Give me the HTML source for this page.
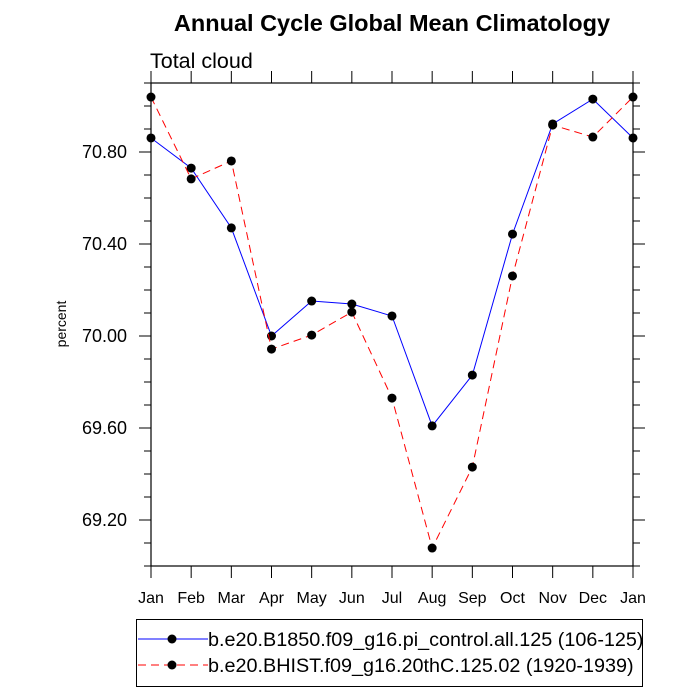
<!DOCTYPE html>
<html><head><meta charset="utf-8"><style>body{margin:0;background:#fff}svg{display:block;font-family:"Liberation Sans",Arial,sans-serif}</style></head>
<body>
<svg id="chart" width="700" height="700" viewBox="0 0 700 700" xmlns="http://www.w3.org/2000/svg">
<text x="392" y="31" text-anchor="middle" font-size="23.5" font-weight="bold">Annual Cycle Global Mean Climatology</text>
<text x="150" y="68" font-size="21.5">Total cloud</text>
<text transform="translate(66,324) rotate(-90)" text-anchor="middle" font-size="14">percent</text>
<g id="axes"></g>
<g id="series"></g>
<g>
<rect x="136.5" y="619.5" width="506" height="67" fill="none" stroke="#000" stroke-width="1"/>
<g>
<line x1="138" y1="639" x2="208" y2="639" stroke="#00f" stroke-width="1"/>
<circle cx="172" cy="639" r="4.5"/>
<text x="208" y="646" font-size="19.8">b.e20.B1850.f09_g16.pi_control.all.125 (106-125)</text>
</g>
<g>
<line x1="138" y1="665" x2="208" y2="665" stroke="#f00" stroke-width="1" stroke-dasharray="8,5"/>
<circle cx="172" cy="665" r="4.5"/>
<text x="208" y="672" font-size="19.8">b.e20.BHIST.f09_g16.20thC.125.02 (1920-1939)</text>
</g>
</g>
</svg>
<script>
const months = ["Jan","Feb","Mar","Apr","May","Jun","Jul","Aug","Sep","Oct","Nov","Dec","Jan"];
const controlValues = [70.861,70.730,70.470,70.000,70.152,70.139,70.087,69.609,69.830,70.443,70.922,71.030,70.861];
const histValues = [71.039,70.683,70.761,69.943,70.004,70.104,69.730,69.078,69.430,70.261,70.917,70.865,71.039];
const yTicks = [69.20,69.60,70.00,70.40,70.80];
const yTickLabels = ["69.20","69.60","70.00","70.40","70.80"];

const NS="http://www.w3.org/2000/svg";
const L=151,R=633,T=83,B=566;
const yMin=69.0, yMax=71.1;
const xs=i=>L+(R-L)*i/(months.length-1);
const ys=v=>B-(v-yMin)/(yMax-yMin)*(B-T);
function mk(tag,attrs,parent){const e=document.createElementNS(NS,tag);for(const k in attrs)e.setAttribute(k,attrs[k]);parent.appendChild(e);return e;}
const axes=document.getElementById('axes');
const frame=mk('rect',{x:L,y:T,width:R-L,height:B-T,fill:'none',stroke:'#000','stroke-width':1.2},axes);


months.forEach((m,i)=>{
  const x=xs(i);
  const t1=mk('line',{x1:x,y1:B,x2:x,y2:B+12,stroke:'#000'},axes);
  
  
  const t2=mk('line',{x1:x,y1:T,x2:x,y2:T-12,stroke:'#000'},axes);
  
  
  const tx=mk('text',{x:x,y:603,'text-anchor':'middle','font-size':16},axes);
  tx.textContent=m;
  
  
});
for(let v=69.0;v<=71.11;v+=0.1){
  const y=ys(v);
  const major=yTicks.some(t=>Math.abs(t-v)<1e-6);
  const len=major?12:7;
  const a=mk('line',{x1:L-len,y1:y,x2:L,y2:y,stroke:'#000'},axes);
  
  
  const b=mk('line',{x1:R,y1:y,x2:R+len,y2:y,stroke:'#000'},axes);
  
  
}
yTicks.forEach((t,i)=>{
  const tx=mk('text',{x:127,y:ys(t)+6,'text-anchor':'end','font-size':18},axes);
  tx.textContent=yTickLabels[i];
  
  
});
const series=document.getElementById('series');
function draw(vals,color,dash,name){
  const pts=vals.map((v,i)=>xs(i)+','+ys(v)).join(' ');
  const pl=mk('polyline',{points:pts,fill:'none',stroke:color,'stroke-width':1,'stroke-dasharray':dash},series);
  
  
  vals.forEach((v,i)=>{
    const c=mk('circle',{cx:xs(i),cy:ys(v),r:4.5,fill:'#000'},series);
    
    
  });
}
draw(controlValues,'#00f','none','control');
draw(histValues,'#f00','8,5','hist');
</script>
</body></html>
